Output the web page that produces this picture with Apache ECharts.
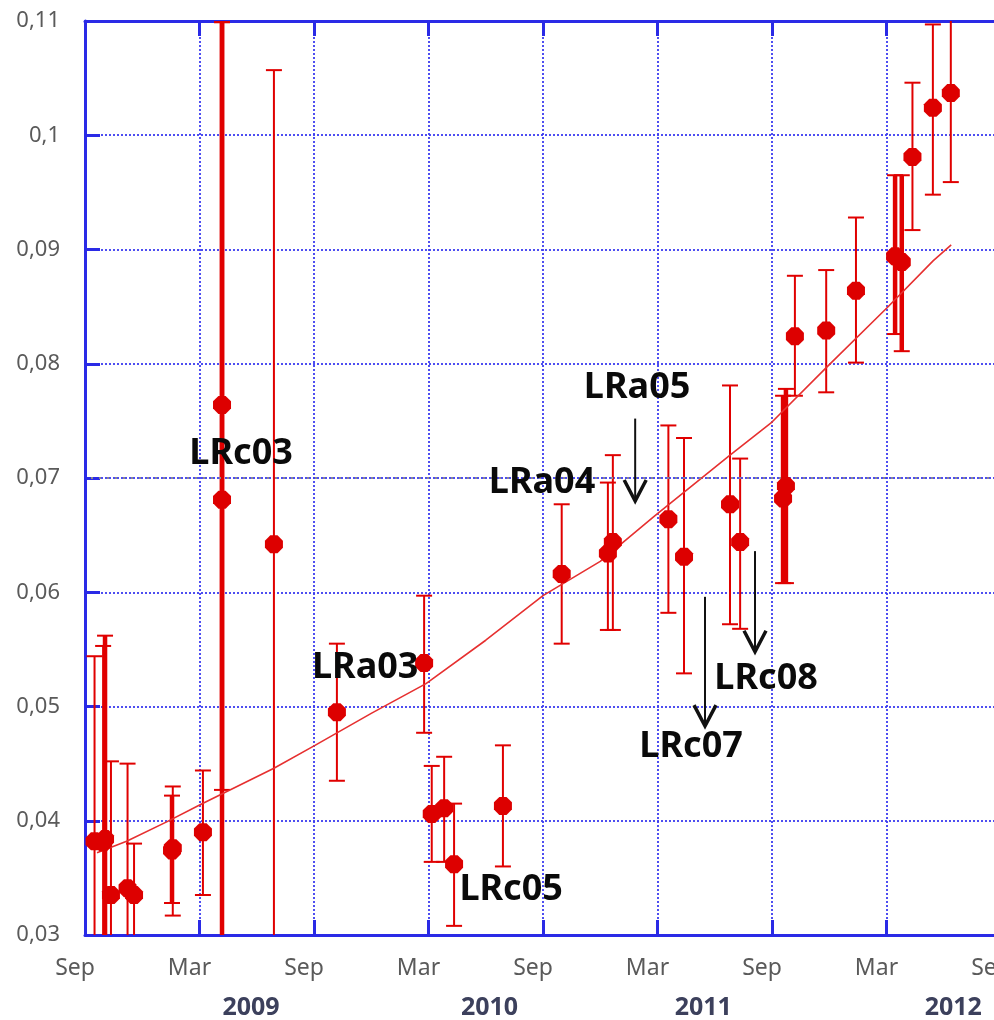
<!DOCTYPE html>
<html>
<head>
<meta charset="utf-8">
<title>Trend</title>
<script src="https://cdn.jsdelivr.net/npm/echarts@6/dist/echarts.min.js"></script>
<style>
  html, body { margin: 0; padding: 0; background: #ffffff; }
  #chart { width: 994px; height: 1020px; }
</style>
</head>
<body>
<div id="chart"></div>
<script>
// x values are months counted from September 2008
const halfYearNames = ['Sep', 'Mar', 'Sep', 'Mar', 'Sep', 'Mar', 'Sep', 'Mar', 'Sep'];
const yearNames = ['2009', '2010', '2011', '2012'];
const yearLabelMonth = [8.7, 21.2, 32.4, 45.5];

// individual measurements with their error ranges
const obsMonth = [0.5, 0.95, 1.05, 1.36, 2.23, 2.57, 4.56, 4.6, 6.18, 7.18, 7.18, 9.9,
  13.2, 17.77, 18.17, 18.82, 19.34, 21.9, 24.98, 27.4, 27.66, 30.57, 31.39, 33.8, 34.33,
  36.58, 36.73, 37.2, 38.84, 40.4, 42.45, 42.8, 43.36, 44.43, 45.37];
const obsValue = [0.0382, 0.0381, 0.0384, 0.0335, 0.0341, 0.0335, 0.0374, 0.0376, 0.0390, 0.0764, 0.0681, 0.0642,
  0.0495, 0.0538, 0.0406, 0.0411, 0.0362, 0.0413, 0.0616, 0.0634, 0.0644, 0.0664, 0.0631, 0.0677, 0.0644,
  0.0682, 0.0693, 0.0824, 0.0829, 0.0864, 0.0894, 0.0889, 0.0981, 0.1024, 0.1037];
const obsLow = [0.02, 0.02, 0.02, 0.02, 0.02, 0.02, 0.0328, 0.0317, 0.0335, 0.0427, 0.02, 0.02,
  0.0435, 0.0477, 0.0364, 0.0364, 0.0308, 0.0360, 0.0555, 0.0567, 0.0567, 0.0582, 0.0529, 0.0572, 0.0568,
  0.0608, 0.0608, 0.0772, 0.0775, 0.0801, 0.0826, 0.0811, 0.0917, 0.0948, 0.0959];
const obsHigh = [0.0544, 0.0553, 0.0562, 0.0452, 0.0450, 0.0380, 0.0422, 0.0430, 0.0444, 0.1099, 0.1099, 0.1057,
  0.0555, 0.0597, 0.0448, 0.0456, 0.0415, 0.0466, 0.0677, 0.0696, 0.0720, 0.0746, 0.0735, 0.0781, 0.0717,
  0.0772, 0.0778, 0.0877, 0.0882, 0.0928, 0.0965, 0.0965, 0.1046, 0.1097, 0.112];
// runs that combine several observations (drawn with heavier bars)
const combinedRun = [0, 0, 1, 0, 0, 0, 1, 0, 0, 1, 1, 0,
  0, 0, 0, 0, 0, 0, 0, 0, 0, 0, 0, 0, 0,
  1, 1, 0, 0, 0, 1, 1, 0, 0, 0];

// fitted trend
const trendMonth = [0.63, 2.18, 4.28, 6.03, 9.9, 12.05, 15, 17.87, 21, 24.0, 27, 29.87, 33.8, 36.0, 38.87, 42.03, 44.44, 45.39];
const trendValue = [0.0372, 0.0382, 0.0399, 0.0414, 0.0446, 0.0466, 0.0494, 0.0520, 0.0558, 0.0597, 0.0627, 0.0667, 0.0720, 0.0749, 0.0797, 0.0849, 0.0890, 0.0904];

// run names and arrows
const runNames = ['LRc03', 'LRa03', 'LRc05', 'LRa04', 'LRa05', 'LRc08', 'LRc07'];
const runNameMonth = [8.18, 14.68, 22.33, 23.95, 28.93, 35.69, 31.76];
const runNameValue = [0.0721, 0.0534, 0.0340, 0.0696, 0.0779, 0.0524, 0.0465];
const arrowMonth = [28.83, 32.49, 35.11];
const arrowFrom = [0.0752, 0.0596, 0.0636];
const arrowTo = [0.0679, 0.0482, 0.0547];

const RED = '#e00000';
const BLUE = '#2a2ae6';
const GRID_BLUE = '#3b3bf0';

const barData = obsMonth.map((m, i) => [m, obsLow[i], obsHigh[i], combinedRun[i]]);
const pointData = obsMonth.map((m, i) => [m, obsValue[i]]);
const trendData = trendMonth.map((m, i) => [m, trendValue[i]]);
const nameData = runNames.map((n, i) => [runNameMonth[i], runNameValue[i]]);
const arrowData = arrowMonth.map((m, i) => [m, arrowFrom[i], arrowTo[i]]);

function renderErrorBar(params, api) {
  const m = api.value(0);
  const top = api.coord([m, api.value(2)]);
  const bot = api.coord([m, api.value(1)]);
  const heavy = api.value(3) === 1;
  const cap = 8;
  return {
    type: 'group',
    children: [
      { type: 'line', shape: { x1: top[0], y1: top[1], x2: bot[0], y2: bot[1] },
        style: { stroke: RED, lineWidth: heavy ? 4.5 : 2 } },
      { type: 'line', shape: { x1: top[0] - cap, y1: top[1], x2: top[0] + cap, y2: top[1] },
        style: { stroke: RED, lineWidth: 2 } },
      { type: 'line', shape: { x1: bot[0] - cap, y1: bot[1], x2: bot[0] + cap, y2: bot[1] },
        style: { stroke: RED, lineWidth: 2 } }
    ]
  };
}

function renderArrow(params, api) {
  const m = api.value(0);
  const a = api.coord([m, api.value(1)]);
  const b = api.coord([m, api.value(2)]);
  return {
    type: 'group',
    children: [
      { type: 'line', shape: { x1: a[0], y1: a[1], x2: b[0], y2: b[1] },
        style: { stroke: '#111111', lineWidth: 2 } },
      { type: 'polyline', shape: { points: [[b[0] - 11, b[1] - 22], [b[0], b[1] - 1], [b[0] + 11, b[1] - 22]] },
        style: { stroke: '#111111', lineWidth: 3.5, fill: null } }
    ]
  };
}

function renderName(params, api) {
  const p = api.coord([api.value(0), api.value(1)]);
  return {
    type: 'text',
    style: {
      text: runNames[params.dataIndex],
      x: p[0], y: p[1],
      align: 'center', verticalAlign: 'middle',
      font: 'bold 36px "Noto Sans"',
      fill: '#0a0a0a'
    }
  };
}

const chart = echarts.init(document.getElementById('chart'), null, { renderer: 'canvas' });

const xCommon = { type: 'value', min: 0, max: 48, interval: 6 };

chart.setOption({
  animation: false,
  backgroundColor: '#ffffff',
  grid: { left: 85, top: 21, bottom: 85, right: -7, containLabel: false, outerBoundsMode: 'none' },
  xAxis: [
    Object.assign({}, xCommon, {
      position: 'bottom',
      axisLine: { show: true, onZero: false, lineStyle: { color: BLUE, width: 3 } },
      axisTick: { show: true, inside: true, length: 15, lineStyle: { color: BLUE, width: 3 } },
      axisLabel: {
        margin: 22, color: '#5a5a5a', fontFamily: 'Noto Sans', fontSize: 23, lineHeight: 23,
        padding: [0, 20, 0, 0],
        formatter: v => halfYearNames[Math.round(v / 6)] || ''
      },
      splitLine: { show: true, lineStyle: { color: GRID_BLUE, width: 1.8, type: [2, 2] } }
    }),
    Object.assign({}, xCommon, {
      position: 'top',
      axisLine: { show: true, onZero: false, lineStyle: { color: BLUE, width: 3 } },
      axisTick: { show: true, inside: true, length: 15, lineStyle: { color: BLUE, width: 3 } },
      axisLabel: { show: false },
      splitLine: { show: false }
    }),
    Object.assign({}, xCommon, {
      position: 'bottom',
      axisLine: { show: false },
      axisTick: { show: false },
      splitLine: { show: false },
      axisLabel: {
        customValues: yearLabelMonth,
        margin: 60, color: '#3c405c', fontFamily: 'Noto Sans', fontWeight: 'bold', fontSize: 25, lineHeight: 25,
        formatter: (v) => {
          const i = yearLabelMonth.indexOf(v);
          return i >= 0 ? yearNames[i] : '';
        }
      }
    })
  ],
  yAxis: {
    type: 'value', min: 0.03, max: 0.11, interval: 0.01,
    axisLine: { show: true, onZero: false, lineStyle: { color: BLUE, width: 3 } },
    axisTick: { show: true, inside: true, length: 15, lineStyle: { color: BLUE, width: 3 } },
    axisLabel: {
      margin: 25, color: '#5a5a5a', fontFamily: 'Noto Sans', fontSize: 22,
      formatter: v => String(parseFloat(v.toFixed(2))).replace('.', ',')
    },
    splitLine: { show: true, lineStyle: { color: GRID_BLUE, width: 1.8, type: [2, 2] } }
  },
  series: [
    {
      name: 'errors', type: 'custom', xAxisIndex: 0, clip: true, z: 3,
      renderItem: renderErrorBar, data: barData, silent: true,
      markLine: {
        silent: true, symbol: 'none', label: { show: false },
        lineStyle: { color: '#8a8a8a', width: 1.8, type: [2, 6], dashOffset: 2 },
        data: [{ yAxis: 0.07 }]
      }
    },
    {
      name: 'trend', type: 'line', xAxisIndex: 0, data: trendData, showSymbol: false, symbol: 'none',
      lineStyle: { color: '#e63030', width: 1.6 }, z: 4, silent: true
    },
    {
      name: 'values', type: 'scatter', xAxisIndex: 0, data: pointData, clip: true, z: 5,
      symbol: 'path://M3,0L7,0L10,3L10,7L7,10L3,10L0,7L0,3Z', symbolSize: 18,
      itemStyle: { color: '#dd0000', opacity: 1 }, silent: true
    },
    {
      name: 'arrows', type: 'custom', xAxisIndex: 0, z: 6, renderItem: renderArrow, data: arrowData, silent: true
    },
    {
      name: 'runs', type: 'custom', xAxisIndex: 0, z: 7, renderItem: renderName, data: nameData, silent: true
    }
  ]
});
</script>
</body>
</html>
